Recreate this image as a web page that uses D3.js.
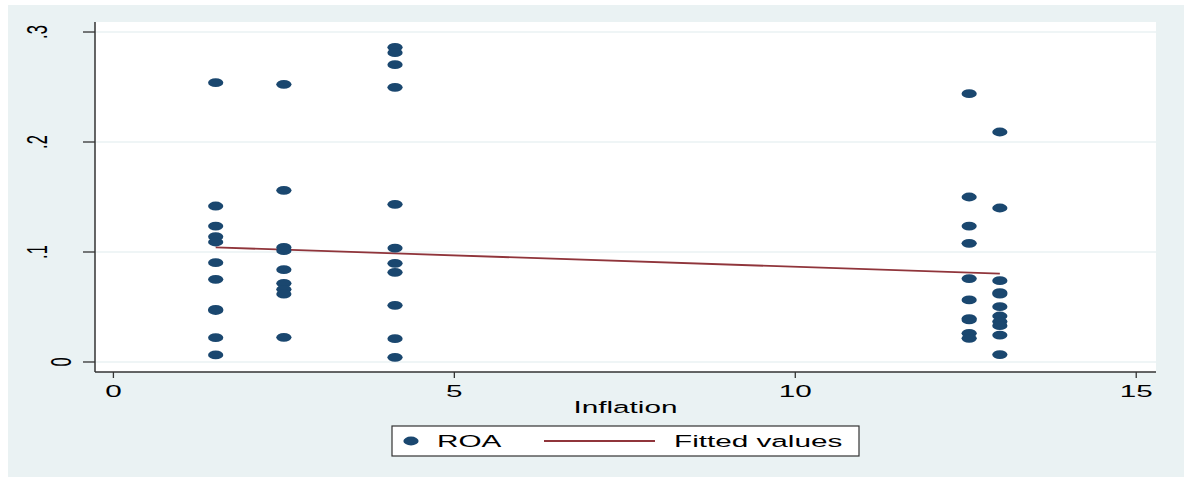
<!DOCTYPE html>
<html>
<head>
<meta charset="utf-8">
<script src="https://cdn.jsdelivr.net/npm/d3@7"></script>
<style>
  html, body { margin: 0; padding: 0; background: #ffffff; }
  svg { display: block; }
  text { font-family: "Liberation Sans", Arial, sans-serif; fill: #000; }
</style>
</head>
<body>
<svg id="chart" width="1184" height="477"></svg>
<script>
// ---- data ----
const inflationLevels = [1.5, 2.5, 4.13, 12.55, 13.0];
const roaAt1_5  = [0.2539, 0.1418, 0.1236, 0.1139, 0.1091, 0.0903, 0.0752, 0.0478, 0.0468, 0.0221, 0.0064];
const roaAt2_5  = [0.2524, 0.1561, 0.1042, 0.1012, 0.0839, 0.0715, 0.0661, 0.0618, 0.0224];
const roaAt4_13 = [0.2861, 0.2812, 0.2703, 0.2497, 0.1433, 0.1036, 0.0897, 0.0815, 0.0515, 0.0212, 0.0042];
const roaAt12_55 = [0.2439, 0.1500, 0.1236, 0.1079, 0.0758, 0.0564, 0.0395, 0.0382, 0.0261, 0.0215];
const roaAt13   = [0.2091, 0.1400, 0.0739, 0.0630, 0.0618, 0.0503, 0.0418, 0.0367, 0.0330, 0.0245, 0.0067];
const fittedX = [1.5, 13.0];
const fittedY = [0.1042, 0.0803];
const xTicks = [0, 5, 10, 15];
const xTickLabels = ["0", "5", "10", "15"];
const yTicks = [0, 0.1, 0.2, 0.3];
const yTickLabels = ["0", ".1", ".2", ".3"];
const xTitle = "Inflation";
const legendLabels = ["ROA", "Fitted values"];

const roaGroups = [roaAt1_5, roaAt2_5, roaAt4_13, roaAt12_55, roaAt13];
const points = [];
roaGroups.forEach((vals, i) => vals.forEach(v => points.push({x: inflationLevels[i], y: v})));

// ---- layout ----
const W = 1184, H = 477;
const plot = {left: 95, right: 1156, top: 22, bottom: 372};
const SX = 1.8;        // horizontal stretch of text, as in the reference
const FS = 16.5;
const navy = "#1a476f", maroon = "#90353b", bg = "#eaf2f3", axisCol = "#333333";

const svg = d3.select("#chart");

svg.append("rect").attr("x", 8).attr("y", 5).attr("width", W - 8).attr("height", H - 5).attr("fill", bg);
svg.append("rect").attr("x", plot.left).attr("y", plot.top)
   .attr("width", plot.right - plot.left).attr("height", plot.bottom - plot.top).attr("fill", "#ffffff");

const x = d3.scaleLinear().domain([-0.27, 15.29]).range([plot.left, plot.right]);
const y = d3.scaleLinear().domain([-0.0091, 0.3091]).range([plot.bottom, plot.top]);

// grid
svg.append("g").selectAll("line").data(yTicks).join("line")
  .attr("x1", plot.left).attr("x2", plot.right)
  .attr("y1", d => y(d)).attr("y2", d => y(d))
  .attr("stroke", bg).attr("stroke-width", 1.6);

// axes lines
svg.append("line").attr("x1", plot.left).attr("x2", plot.left).attr("y1", plot.top).attr("y2", plot.bottom)
   .attr("stroke", axisCol).attr("stroke-width", 1.5);
svg.append("line").attr("x1", plot.left).attr("x2", plot.right).attr("y1", plot.bottom).attr("y2", plot.bottom)
   .attr("stroke", axisCol).attr("stroke-width", 1.5);

// y ticks
svg.append("g").selectAll("line").data(yTicks).join("line")
  .attr("x1", plot.left - 12).attr("x2", plot.left)
  .attr("y1", d => y(d)).attr("y2", d => y(d))
  .attr("stroke", axisCol).attr("stroke-width", 1.3);
svg.append("g").selectAll("text").data(yTicks).join("text")
  .attr("text-anchor", "middle").attr("font-size", FS)
  .attr("transform", (d, i) => {
    const bx = yTickLabels[i].startsWith(".") ? 47 : 71;
    return `translate(${bx},${y(d)}) scale(${SX},1) rotate(-90)`;
  })
  .text((d, i) => yTickLabels[i]);

// x ticks
svg.append("g").selectAll("line").data(xTicks).join("line")
  .attr("x1", d => x(d)).attr("x2", d => x(d))
  .attr("y1", plot.bottom).attr("y2", plot.bottom + 6)
  .attr("stroke", axisCol).attr("stroke-width", 1.3);
svg.append("g").selectAll("text").data(xTicks).join("text")
  .attr("text-anchor", "middle").attr("font-size", FS)
  .attr("transform", d => `translate(${x(d)},397) scale(${SX},1)`)
  .text((d, i) => xTickLabels[i]);

svg.append("text").attr("text-anchor", "middle").attr("font-size", FS)
  .attr("transform", `translate(${(plot.left + plot.right) / 2},413) scale(${SX},1)`)
  .text(xTitle);

// fitted line
svg.append("path")
  .datum(fittedX.map((v, i) => [v, fittedY[i]]))
  .attr("d", d3.line().x(d => x(d[0])).y(d => y(d[1])))
  .attr("fill", "none").attr("stroke", maroon).attr("stroke-width", 1.8);

// points
svg.append("g").selectAll("ellipse").data(points).join("ellipse")
  .attr("cx", d => x(d.x)).attr("cy", d => y(d.y))
  .attr("rx", 7.6).attr("ry", 4.4).attr("fill", navy);

// legend
const lg = svg.append("g");
lg.append("rect").attr("x", 392).attr("y", 426).attr("width", 467).attr("height", 30)
  .attr("fill", "#ffffff").attr("stroke", axisCol).attr("stroke-width", 1.2);
lg.append("ellipse").attr("cx", 411).attr("cy", 441).attr("rx", 7.6).attr("ry", 4.4).attr("fill", navy);
lg.append("text").attr("font-size", FS).attr("transform", `translate(437,447) scale(${SX},1)`).text(legendLabels[0]);
lg.append("line").attr("x1", 544).attr("x2", 655).attr("y1", 441).attr("y2", 441)
  .attr("stroke", maroon).attr("stroke-width", 1.8);
lg.append("text").attr("font-size", FS).attr("transform", `translate(674,447) scale(${SX},1)`).text(legendLabels[1]);
</script>
</body>
</html>
